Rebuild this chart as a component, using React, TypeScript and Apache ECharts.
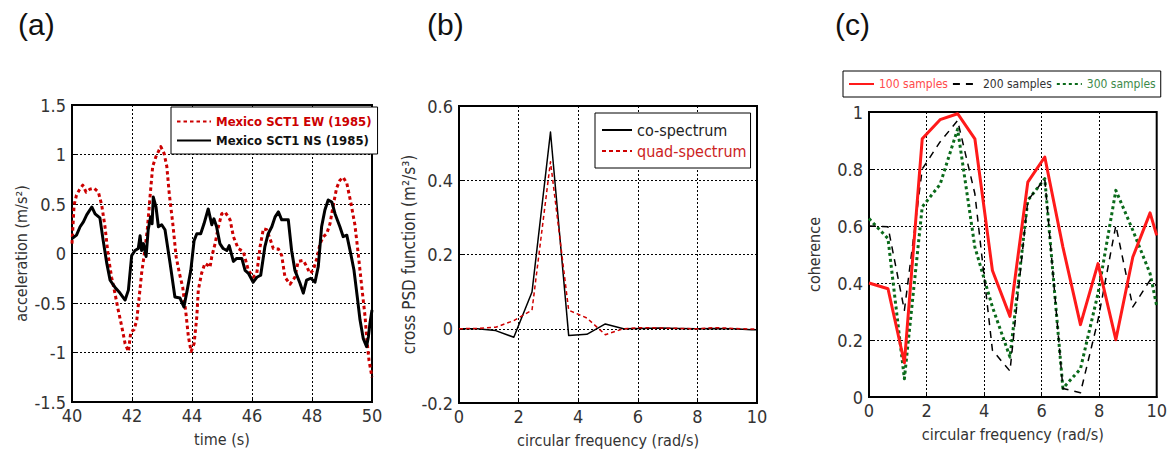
import React, { useEffect, useRef } from "react";
import * as echarts from "echarts";

const NARROW = '"DejaVu Sans Condensed", "Liberation Sans Narrow", "Arial Narrow", "Liberation Sans", Arial, sans-serif';
const SANS = '"Liberation Sans", Arial, sans-serif';

// ---- Panel (a): acceleration time histories [time (s), acceleration (m/s^2)]
const ewAccel: [number, number][] = [
  [40.0, 0.1], [40.07, 0.49], [40.15, 0.59], [40.24, 0.64], [40.36, 0.69], [40.47, 0.62],
  [40.6, 0.65], [40.73, 0.66], [40.88, 0.62], [40.99, 0.49], [41.1, 0.27], [41.21, -0.03],
  [41.32, -0.24], [41.43, -0.4], [41.54, -0.57], [41.66, -0.74], [41.77, -0.91], [41.88, -0.99],
  [41.96, -0.79], [42.07, -0.77], [42.16, -0.67], [42.24, -0.44], [42.32, -0.2], [42.4, -0.03],
  [42.51, 0.24], [42.6, 0.57], [42.69, 0.88], [42.8, 0.98], [42.88, 1.03], [42.96, 1.08],
  [43.07, 1.01], [43.16, 0.88], [43.24, 0.61], [43.36, 0.3], [43.47, -0.03], [43.58, -0.2],
  [43.69, -0.34], [43.8, -0.61], [43.88, -0.84], [43.97, -0.99], [44.07, -0.91], [44.16, -0.64],
  [44.21, -0.37], [44.32, -0.2], [44.43, -0.1], [44.54, -0.12], [44.6, -0.14], [44.66, -0.03],
  [44.77, 0.1], [44.88, 0.27], [44.99, 0.4], [45.1, 0.42], [45.27, 0.34], [45.38, 0.17],
  [45.54, 0.05], [45.71, 0.02], [45.88, -0.17], [46.04, -0.24], [46.16, -0.2], [46.27, 0.07],
  [46.38, 0.25], [46.49, 0.24], [46.6, 0.15], [46.71, 0.05], [46.88, 0.045], [46.99, -0.02],
  [47.1, -0.24], [47.27, -0.31], [47.43, -0.24], [47.54, -0.08], [47.71, -0.07], [47.82, -0.13],
  [47.93, -0.2], [48.04, -0.17], [48.16, -0.05], [48.27, 0.1], [48.38, 0.17], [48.49, 0.2],
  [48.6, 0.3], [48.71, 0.49], [48.82, 0.66], [48.93, 0.74], [49.04, 0.77], [49.16, 0.71],
  [49.29, 0.52], [49.43, 0.29], [49.54, 0.0], [49.66, -0.34], [49.77, -0.64], [49.82, -0.84],
  [49.9, -1.08], [50.0, -1.25],
];

const nsAccel: [number, number][] = [
  [40.0, 0.15], [40.15, 0.185], [40.27, 0.27], [40.38, 0.32], [40.49, 0.39], [40.66, 0.47],
  [40.77, 0.4], [40.93, 0.36], [41.04, 0.13], [41.16, -0.1], [41.27, -0.27], [41.43, -0.34],
  [41.6, -0.4], [41.77, -0.47], [41.88, -0.37], [41.99, -0.02], [42.1, 0.03], [42.21, 0.05],
  [42.27, 0.18], [42.32, 0.03], [42.38, 0.1], [42.47, -0.03], [42.54, 0.24], [42.62, 0.37],
  [42.67, 0.3], [42.71, 0.57], [42.8, 0.47], [42.88, 0.27], [42.99, 0.29], [43.1, 0.24],
  [43.27, -0.1], [43.43, -0.44], [43.6, -0.45], [43.73, -0.54], [43.84, -0.37], [43.96, -0.17],
  [44.07, 0.13], [44.16, 0.2], [44.29, 0.2], [44.4, 0.3], [44.54, 0.45], [44.66, 0.29],
  [44.73, 0.35], [44.82, 0.27], [44.93, 0.1], [45.04, 0.05], [45.16, 0.03], [45.24, 0.08],
  [45.38, -0.08], [45.49, -0.05], [45.66, -0.05], [45.77, -0.17], [45.88, -0.2], [46.04, -0.29],
  [46.16, -0.24], [46.29, -0.22], [46.43, 0.07], [46.54, 0.2], [46.66, 0.27], [46.77, 0.37],
  [46.88, 0.42], [46.99, 0.34], [47.1, 0.34], [47.21, 0.34], [47.32, 0.03], [47.43, -0.17],
  [47.6, -0.3], [47.71, -0.4], [47.82, -0.27], [47.96, -0.25], [48.1, -0.29], [48.21, -0.13],
  [48.32, 0.27], [48.43, 0.44], [48.54, 0.54], [48.66, 0.52], [48.77, 0.4], [48.93, 0.27],
  [49.04, 0.17], [49.16, 0.185], [49.29, 0.0], [49.4, -0.17], [49.51, -0.44], [49.6, -0.67],
  [49.71, -0.86], [49.82, -0.94], [49.88, -0.84], [49.93, -0.71], [50.0, -0.57],
];

// ---- Panel (b): cross PSD (circular frequency rad/s)
const psdFreq = [0, 0.61, 1.23, 1.84, 2.45, 3.07, 3.68, 4.29, 4.91, 5.52, 6.14, 6.75, 7.36, 7.98, 8.59, 9.2, 9.82, 10];
const coSpectrum = [0, 0.0, -0.005, -0.023, 0.099, 0.53, -0.018, -0.015, 0.013, 0.0, 0.001, 0.002, 0.001, 0.0, 0.001, 0.0, -0.003, -0.003];
const quadSpectrum = [0, 0.001, 0.004, 0.022, 0.05, 0.45, 0.05, 0.029, -0.016, 0.0, 0.003, 0.002, 0.001, 0.0, 0.003, 0.001, -0.001, -0.001];

// ---- Panel (c): coherence
const cohFreq = [0, 0.66, 1.23, 1.85, 2.47, 3.08, 3.68, 4.29, 4.9, 5.52, 6.11, 6.74, 7.35, 7.96, 8.58, 9.17, 9.77, 10];
const coh100 = [0.4, 0.38, 0.12, 0.906, 0.973, 0.994, 0.906, 0.444, 0.283, 0.754, 0.842, 0.526, 0.254, 0.468, 0.201, 0.491, 0.646, 0.567];
const coh200 = [0.6, 0.597, 0.304, 0.8, 0.895, 0.97, 0.713, 0.164, 0.091, 0.69, 0.766, 0.03, 0.015, 0.27, 0.602, 0.316, 0.41, 0.39];
const coh300 = [0.626, 0.556, 0.064, 0.667, 0.746, 0.94, 0.526, 0.316, 0.14, 0.69, 0.766, 0.03, 0.099, 0.363, 0.725, 0.585, 0.433, 0.32];

const zip = (x: number[], y: number[]) => x.map((v, i) => [v, y[i]]);

const splitLine = { show: true, lineStyle: { color: "#000", width: 1, type: [2, 2] as number[] } };
const axisLine = { show: true, onZero: false, lineStyle: { color: "#000", width: 2 } };
const axisTick = { show: true, inside: true, length: 4, lineStyle: { color: "#000", width: 1 } };

function xAxis(gridIndex: number, min: number, max: number, interval: number, name: string) {
  return {
    type: "value", gridIndex, min, max, interval, name,
    nameLocation: "middle", nameGap: 29,
    nameTextStyle: { fontFamily: NARROW, fontSize: 16, color: "#333" },
    axisLine, axisTick, splitLine,
    axisLabel: { fontFamily: NARROW, fontSize: 18, color: "#333", margin: 4 },
  };
}
function yAxis(gridIndex: number, min: number, max: number, interval: number, name: string, nameGap: number, nameSize: number) {
  return {
    type: "value", gridIndex, min, max, interval, name,
    nameLocation: "middle", nameGap, nameRotate: 90,
    nameTextStyle: { fontFamily: NARROW, fontSize: nameSize, color: "#333" },
    axisLine, axisTick, splitLine,
    axisLabel: { fontFamily: NARROW, fontSize: 18, color: "#333", margin: 6 },
  };
}

const gridBox = { show: true, borderColor: "#000", borderWidth: 2, backgroundColor: "transparent", containLabel: false };
const legendBase = {
  borderColor: "#000", borderWidth: 1, backgroundColor: "#fff", selectedMode: false,
  itemStyle: { opacity: 0 },
};
const panelTitle = { fontFamily: SANS, fontSize: 30, fontWeight: "normal", color: "#111" };

export default function App() {
  const ref = useRef<HTMLDivElement>(null);
  useEffect(() => {
    if (!ref.current) return;
    const chart = echarts.init(ref.current, undefined, { renderer: "svg" });
    const line = (name: string, idx: number, data: number[][], color: string, width: number, type: any, z = 2) => ({
      name, type: "line", xAxisIndex: idx, yAxisIndex: idx, data, showSymbol: false, symbol: "none",
      lineStyle: { color, width, type, cap: "butt", join: "round" }, itemStyle: { color }, z,
      clip: true,
    });
    chart.setOption({
      animation: false,
      backgroundColor: "#fff",
      title: [
        { text: "(a)", left: 13, top: 4, textStyle: panelTitle },
        { text: "(b)", left: 422, top: 4, textStyle: panelTitle },
        { text: "(c)", left: 830, top: 4, textStyle: panelTitle },
      ],
      grid: [
        { ...gridBox, left: 72, top: 105, width: 300, height: 297 },
        { ...gridBox, left: 459, top: 106, width: 298, height: 297 },
        { ...gridBox, left: 869, top: 112, width: 289, height: 285 },
      ],
      xAxis: [
        xAxis(0, 40, 50, 2, "time (s)"),
        xAxis(1, 0, 10, 2, "circular frequency (rad/s)"),
        xAxis(2, 0, 10, 2, "circular frequency (rad/s)"),
      ],
      yAxis: [
        yAxis(0, -1.5, 1.5, 0.5, "acceleration (m/s²)", 43, 16),
        yAxis(1, -0.2, 0.6, 0.2, "cross PSD function (m²/s³)", 38, 17),
        yAxis(2, 0, 1, 0.2, "coherence", 47, 16),
      ],
      legend: [
        {
          ...legendBase,
          orient: "vertical", left: 171, top: 107, padding: [8, 6, 7, 5], itemGap: 6,
          itemWidth: 34, itemHeight: 10,
          textStyle: { fontFamily: NARROW, fontSize: 13, fontWeight: "bold" },
          data: [
            { name: "Mexico SCT1 EW (1985)", textStyle: { color: "#cc0000" } },
            { name: "Mexico SCT1 NS (1985)", textStyle: { color: "#111" } },
          ],
        },
        {
          ...legendBase,
          orient: "vertical", left: 595, top: 113, padding: [9, 4, 9, 6], itemGap: 5,
          itemWidth: 30, itemHeight: 10,
          textStyle: { fontFamily: NARROW, fontSize: 16 },
          data: [
            { name: "co-spectrum", textStyle: { color: "#222" } },
            { name: "quad-spectrum", textStyle: { color: "#cc2222" } },
          ],
        },
        {
          ...legendBase,
          orient: "horizontal", left: 843, top: 71, padding: [7, 5, 7, 5], itemGap: 4,
          itemWidth: 25, itemHeight: 10,
          textStyle: { fontFamily: NARROW, fontSize: 12 },
          data: [
            { name: "100 samples", textStyle: { color: "#ff4a4a" } },
            { name: "200 samples", textStyle: { color: "#333" } },
            { name: "300 samples", textStyle: { color: "#3d8a4a" } },
          ],
        },
      ],
      series: [
        line("Mexico SCT1 EW (1985)", 0, ewAccel, "#cc0000", 3, [3.5, 3]),
        line("Mexico SCT1 NS (1985)", 0, nsAccel, "#000", 3, "solid", 3),
        line("co-spectrum", 1, zip(psdFreq, coSpectrum), "#000", 1.5, "solid"),
        line("quad-spectrum", 1, zip(psdFreq, quadSpectrum), "#d00000", 1.5, [4, 3], 3),
        line("100 samples", 2, zip(cohFreq, coh100), "#ff1a1a", 3, "solid", 4),
        line("200 samples", 2, zip(cohFreq, coh200), "#000", 1.5, [7, 6], 3),
        line("300 samples", 2, zip(cohFreq, coh300), "#0a6a1a", 3, [3, 3], 2),
      ],
    });
    return () => chart.dispose();
  }, []);
  return <div ref={ref} style={{ position: "fixed", left: 0, top: 0, width: 1170, height: 454 }} />;
}
